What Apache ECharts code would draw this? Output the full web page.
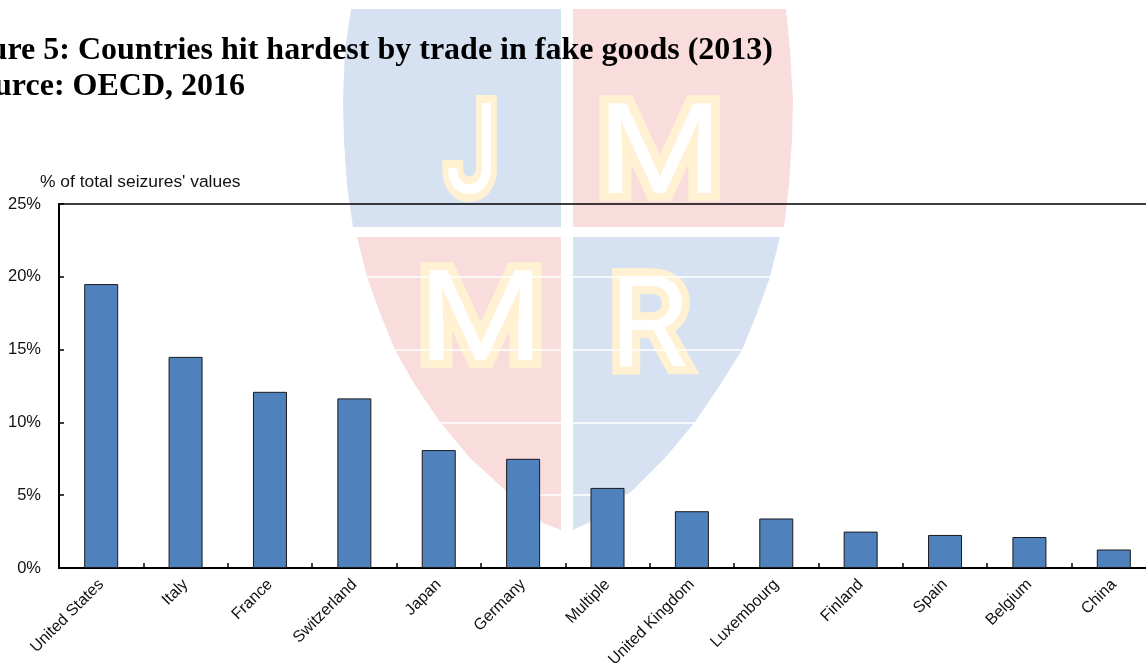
<!DOCTYPE html>
<html>
<head>
<meta charset="utf-8">
<style>
  html, body { margin: 0; padding: 0; background: #fff; overflow: hidden; }
  #chart { width: 1146px; height: 667px; }
</style>
<script src="https://cdn.jsdelivr.net/npm/echarts@6/dist/echarts.min.js"></script>
</head>
<body>
<div id="chart"></div>
<script>
const countries = ['United States', 'Italy', 'France', 'Switzerland', 'Japan', 'Germany', 'Multiple',
  'United Kingdom', 'Luxembourg', 'Finland', 'Spain', 'Belgium', 'China']
const seizures = [19.5, 14.5, 12.1, 11.65, 8.1, 7.5, 5.5, 3.9, 3.4, 2.5, 2.27, 2.13, 1.27]
const titleLine1 = 'Figure 5: Countries hit hardest by trade in fake goods (2013)'
const titleLine2 = 'Source: OECD, 2016'
const yName = "% of total seizures' values"

const sans = '"Liberation Sans", Arial, sans-serif'
const serif = '"Liberation Serif", "Times New Roman", serif'
const blue = '#d6e1f1'
const red = '#f9dcdc'

// watermark shield behind the plot
function shield (points, fill) {
  return { type: 'polygon', silent: true, z: -2, shape: { points: points }, style: { fill: fill } }
}
function letter (text, x, y, scaleX) {
  return {
    type: 'text',
    silent: true,
    z: -1,
    x: x,
    y: y,
    scaleX: scaleX,
    style: {
      text: text,
      font: '400 127px Roboto, sans-serif',
      fill: '#fff',
      stroke: '#fff1d2',
      lineWidth: 16,
      lineJoin: 'round',
      strokeFirst: true,
      align: 'center',
      verticalAlign: 'middle',
      shadowColor: 'rgba(0,0,0,0.08)',
      shadowBlur: 8,
      shadowOffsetY: 6
    }
  }
}
const watermark = [
  shield([[351, 9], [561, 9], [561, 227], [353, 227], [347, 185], [344, 140], [343, 100], [345, 50]], blue),
  shield([[573, 9], [786, 9], [790, 50], [793, 100], [792, 140], [789, 185], [784, 227], [573, 227]], red),
  shield([[357, 237], [561, 237], [561, 530], [543, 523], [505, 490], [470, 458], [440, 422], [415, 385], [395, 350], [380, 313], [367, 277]], red),
  shield([[573, 237], [780, 237], [770, 277], [757, 313], [742, 350], [720, 385], [695, 422], [665, 458], [633, 490], [590, 522], [573, 530]], blue),
  letter('J', 472, 161, 0.75),
  letter('M', 660, 161, 1.14),
  letter('M', 481, 328, 1.14),
  letter('R', 649, 334, 1)
]

const chart = echarts.init(document.getElementById('chart'))
chart.setOption({
  backgroundColor: '#fff',
  animation: false,
  title: [
    { text: titleLine1, left: 773, top: 35, padding: 0, textAlign: 'right',
      textStyle: { fontFamily: serif, fontSize: 32, fontWeight: 'bold', color: '#000' } },
    { text: titleLine2, left: 245, top: 71, padding: 0, textAlign: 'right',
      textStyle: { fontFamily: serif, fontSize: 32, fontWeight: 'bold', color: '#000' } }
  ],
  grid: {
    show: true,
    left: 59,
    top: 204,
    width: 1097,
    height: 364,
    outerBoundsMode: 'none',
    backgroundColor: 'transparent',
    borderColor: '#000',
    borderWidth: 1.5
  },
  xAxis: {
    type: 'category',
    data: countries,
    axisLine: { show: true, lineStyle: { color: '#000', width: 2 } },
    axisTick: { show: true, inside: true, length: 5, alignWithLabel: false, lineStyle: { color: '#000', width: 1.5 } },
    axisLabel: { interval: 0, rotate: 45, margin: 14, hideOverlap: false, fontFamily: sans, fontSize: 16, color: '#111' }
  },
  yAxis: {
    type: 'value',
    min: 0,
    max: 25,
    interval: 5,
    name: yName,
    nameLocation: 'end',
    nameGap: 13,
    nameTextStyle: { fontFamily: sans, fontSize: 17.4, color: '#111', align: 'left', padding: [0, 0, 0, -19] },
    axisLine: { show: true, lineStyle: { color: '#000', width: 2 } },
    axisTick: { show: true, inside: true, length: 5, lineStyle: { color: '#000', width: 1.5 } },
    axisLabel: { margin: 18, fontFamily: sans, fontSize: 16.5, color: '#111', formatter: '{value}%' },
    splitLine: { show: true, showMinLine: false, showMaxLine: false, lineStyle: { color: '#fff', width: 1.5 } }
  },
  series: [{
    type: 'bar',
    data: seizures,
    barWidth: 34,
    itemStyle: { color: '#4f81bd', borderColor: '#1a1a1a', borderWidth: 1 }
  }],
  graphic: watermark
})
</script>
</body>
</html>
